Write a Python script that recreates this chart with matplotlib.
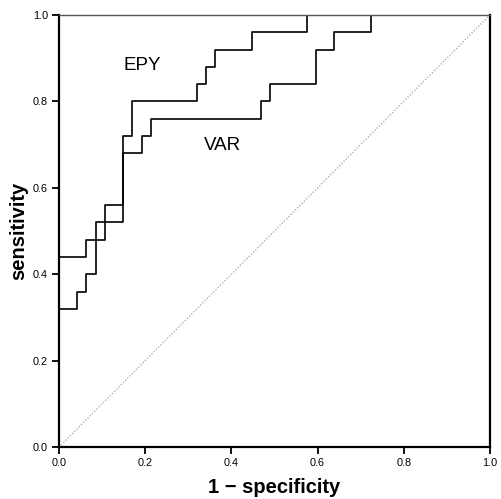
import matplotlib
matplotlib.use('Agg')
import matplotlib.pyplot as plt

plt.rcParams['font.family'] = ['Liberation Sans', 'DejaVu Sans']

# ROC data (47 negatives, 25 positives)
epy_fpr = [0, 0, 3/47, 5/47, 7/47, 8/47, 15/47, 16/47, 17/47, 21/47, 27/47, 1.0]
epy_tpr = [0, 0.44, 0.48, 0.56, 0.72, 0.80, 0.84, 0.88, 0.92, 0.96, 1.0, 1.0]

var_fpr = [0, 0, 2/47, 3/47, 4/47, 7/47, 9/47, 10/47, 22/47, 23/47, 28/47, 30/47, 34/47, 1.0]
var_tpr = [0, 0.32, 0.36, 0.40, 0.52, 0.68, 0.72, 0.76, 0.80, 0.84, 0.92, 0.96, 1.0, 1.0]

ticks = [0.0, 0.2, 0.4, 0.6, 0.8, 1.0]
tick_labels = ['0.0', '0.2', '0.4', '0.6', '0.8', '1.0']

fig = plt.figure(figsize=(5.02, 4.99), dpi=100)
ax = fig.add_axes([0.1175, 0.104, 0.8585, 0.866])

ax.plot([0, 1], [0, 1], color='#a0a0a0', lw=0.9, ls=(0, (1, 1.5)))
ax.step(epy_fpr, epy_tpr, where='post', color='black', lw=1.2)
ax.step(var_fpr, var_tpr, where='post', color='black', lw=1.2)

ax.text(0.194, 0.883, 'EPY', fontsize=13.5, ha='center', va='center')
ax.text(0.379, 0.697, 'VAR', fontsize=13.5, ha='center', va='center')

ax.set_xlim(0, 1)
ax.set_ylim(0, 1)
ax.set_xticks(ticks)
ax.set_xticklabels(tick_labels)
ax.set_yticks(ticks)
ax.set_yticklabels(tick_labels)
ax.tick_params(direction='out', length=5, width=1.3, labelsize=7.8, pad=3)

for side in ['left', 'bottom', 'right']:
    ax.spines[side].set_linewidth(1.6)
ax.spines['top'].set_linewidth(1.0)
ax.spines['top'].set_color('#555555')

ax.set_xlabel('1 \u2212 specificity', fontsize=14.5, fontweight='bold', labelpad=7)
ax.set_ylabel('sensitivity', fontsize=14.5, fontweight='bold', labelpad=3)

plt.savefig('out.png', dpi=100)
